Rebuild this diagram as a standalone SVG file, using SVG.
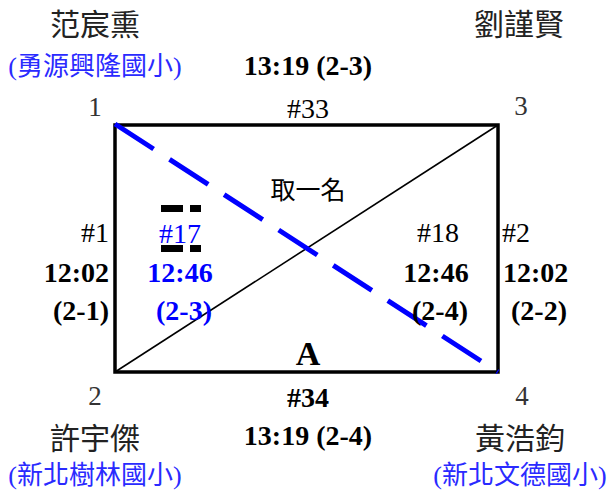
<svg xmlns="http://www.w3.org/2000/svg" width="611" height="491" viewBox="0 0 611 491">
<style>
text{font-family:"Liberation Serif","Noto Sans CJK TC",serif;}
.cjk{font-family:"Noto Sans CJK TC","Liberation Serif",sans-serif;}
.name{font-size:30px;fill:#222;text-anchor:middle;}
.school{font-size:26px;fill:#2a2aff;text-anchor:middle;}
.seed{font-size:27px;fill:#333;text-anchor:middle;}
.num{font-size:28px;fill:#000;}
.time{font-size:28px;font-weight:bold;fill:#000;}
.blue{fill:#0000ff;}
.mid{text-anchor:middle;}
.end{text-anchor:end;}
</style>
<rect width="611" height="491" fill="#fff"/>
<g id="connectors">
<rect x="115" y="125" width="383" height="247" fill="none" stroke="#000" stroke-width="3.5"/>
<line x1="115" y1="372" x2="498" y2="125" stroke="#000" stroke-width="1.6"/>
<line x1="115" y1="124" x2="498" y2="372" stroke="#0000ff" stroke-width="5" stroke-dasharray="46 19"/>
</g>
<g id="player1">
<text class="seed" x="95" y="116">1</text>
<text class="name cjk" x="95" y="35">范宸熏</text>
<text class="school" x="95" y="75">(<tspan class="cjk">勇源興隆國小</tspan>)</text>
</g>
<g id="player3">
<text class="seed" x="521" y="115">3</text>
<text class="name cjk" x="519" y="35">劉謹賢</text>
</g>
<g id="player2">
<text class="seed" x="95" y="405">2</text>
<text class="name cjk" x="95" y="449">許宇傑</text>
<text class="school" x="95" y="484">(<tspan class="cjk">新北樹林國小</tspan>)</text>
</g>
<g id="player4">
<text class="seed" x="522" y="405">4</text>
<text class="name cjk" x="520" y="449">黃浩鈞</text>
<text class="school" x="520" y="484">(<tspan class="cjk">新北文德國小</tspan>)</text>
</g>
<g id="match33">
<text class="num mid" x="308" y="118">#33</text>
<text class="time mid" x="308" y="75">13:19 (2-3)</text>
</g>
<g id="match34">
<text class="num mid" x="308" y="407" font-weight="bold">#34</text>
<text class="time mid" x="308" y="445">13:19 (2-4)</text>
</g>
<g id="match1">
<text class="num end" x="109" y="242">#1</text>
<text class="time end" x="109" y="282">12:02</text>
<text class="time end" x="109" y="320">(2-1)</text>
</g>
<g id="match2">
<text class="num" x="502" y="242">#2</text>
<text class="time" x="503" y="282">12:02</text>
<text class="time" x="511" y="320">(2-2)</text>
</g>
<g id="match17">
<g fill="#000">
<rect x="161" y="205" width="22" height="7"/>
<rect x="190" y="205" width="11" height="7"/>
<rect x="161" y="245" width="22" height="7"/>
<rect x="190" y="245" width="11" height="7"/>
</g>
<text class="num mid blue" x="180" y="243">#17</text>
<text class="time mid blue" x="180" y="282">12:46</text>
<text class="time mid blue" x="184" y="320">(2-3)</text>
</g>
<g id="match18">
<text class="num mid" x="438" y="242">#18</text>
<text class="time mid" x="436" y="282">12:46</text>
<text class="time mid" x="440" y="320">(2-4)</text>
</g>
<g id="center">
<text class="cjk mid" x="308" y="199" font-size="25" fill="#000">取一名</text>
<text class="mid" x="308" y="365" font-size="34" font-weight="bold" fill="#000">A</text>
</g>
</svg>
